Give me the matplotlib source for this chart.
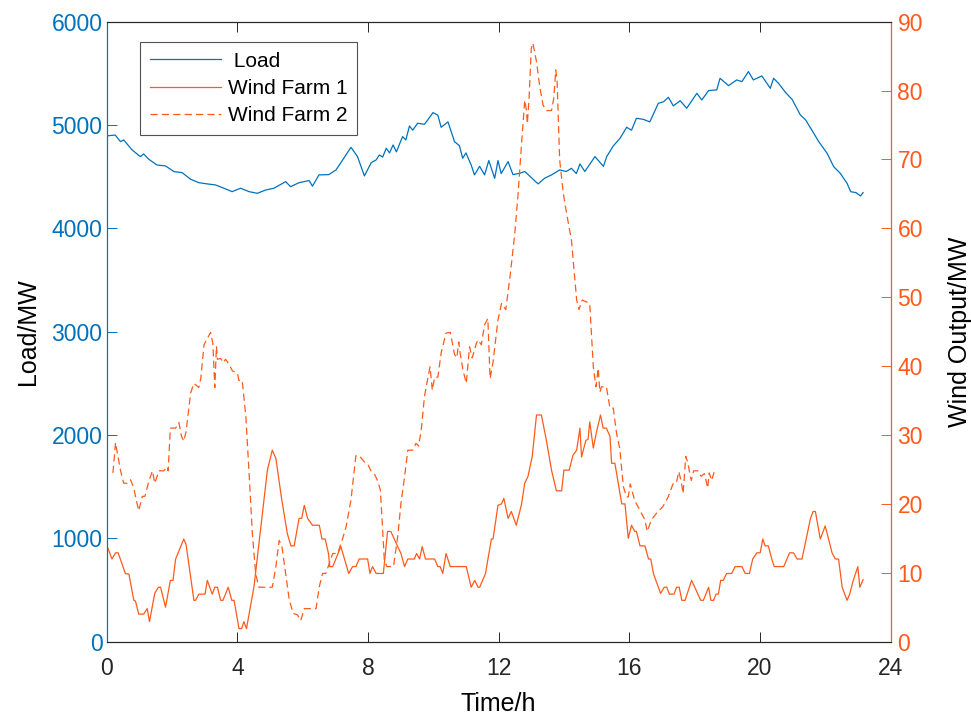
import matplotlib
matplotlib.use("Agg")
import matplotlib.pyplot as plt

plt.rcParams['font.family'] = ['Liberation Sans', 'DejaVu Sans']
plt.rcParams['lines.scale_dashes'] = False

# ---------------- data ----------------
load_t = [0.01, 0.26, 0.42, 0.52, 0.78, 1.03, 1.13, 1.29, 1.54, 1.80, 2.06, 2.31, 2.57, 2.82,
          3.08, 3.33, 3.59, 3.84, 4.10, 4.36, 4.61, 4.87, 5.12, 5.48, 5.63, 5.89, 6.20, 6.30,
          6.50, 6.80, 7.02, 7.17, 7.48, 7.68, 7.89, 8.10, 8.25, 8.35, 8.45, 8.56, 8.66, 8.77,
          8.87, 9.06, 9.16, 9.27, 9.37, 9.52, 9.73, 9.83, 9.99, 10.14, 10.24, 10.45, 10.65,
          10.80, 10.90, 11.00, 11.16, 11.26, 11.42, 11.57, 11.70, 11.88, 11.98, 12.08, 12.29,
          12.44, 12.65, 12.80, 13.21, 13.41, 13.62, 13.87, 14.07, 14.23, 14.38, 14.49, 14.64,
          14.95, 15.21, 15.31, 15.51, 15.72, 15.92, 16.07, 16.22, 16.43, 16.63, 16.89, 17.05,
          17.20, 17.35, 17.56, 17.76, 18.07, 18.22, 18.43, 18.68, 18.78, 19.04, 19.29, 19.45,
          19.65, 19.80, 20.06, 20.32, 20.42, 20.57, 20.78, 20.99, 21.24, 21.40, 21.65, 21.80,
          22.06, 22.26, 22.46, 22.67, 22.78, 22.95, 23.08, 23.16]
load_mw = [4895, 4903, 4839, 4855, 4758, 4694, 4720, 4668, 4613, 4604, 4549, 4539, 4475, 4442,
           4430, 4420, 4388, 4355, 4388, 4355, 4339, 4371, 4388, 4452, 4403, 4442, 4462, 4408,
           4517, 4520, 4565, 4636, 4784, 4694, 4507, 4636, 4662, 4710, 4690, 4775, 4730, 4807,
           4740, 4888, 4855, 4991, 4950, 5017, 5007, 5049, 5120, 5095, 4978, 5030, 4839,
           4800, 4678, 4730, 4613, 4517, 4600, 4517, 4656, 4484, 4656, 4530, 4646,
           4520, 4533, 4550, 4430, 4485, 4517, 4565, 4550, 4581, 4530, 4623, 4550,
           4694, 4600, 4694, 4797, 4872, 4978, 4950, 5065, 5055, 5030, 5210, 5225,
           5268, 5185, 5235, 5162, 5307, 5242, 5333, 5340, 5452, 5381, 5436, 5420,
           5517, 5436, 5475, 5355, 5452, 5404, 5317, 5246, 5097, 5050, 4920, 4840,
           4726, 4597, 4533, 4436, 4355, 4345, 4313, 4346]

wf1_t = [0.01, 0.16, 0.27, 0.35, 0.57, 0.68, 0.83, 0.88, 0.98, 1.13, 1.24, 1.31, 1.47, 1.58,
         1.65, 1.80, 1.95, 2.03, 2.11, 2.36, 2.43, 2.67, 2.72, 2.82, 3.01, 3.08, 3.23, 3.31,
         3.39, 3.49, 3.56, 3.72, 3.83, 3.90, 4.05, 4.13, 4.20, 4.28, 4.51, 4.72, 4.92, 5.07,
         5.18, 5.36, 5.53, 5.64, 5.74, 5.89, 5.97, 6.05, 6.15, 6.30, 6.51, 6.59, 6.69, 6.79,
         6.83, 6.92, 7.17, 7.41, 7.53, 7.63, 7.73, 7.99, 8.06, 8.14, 8.25, 8.35, 8.47, 8.60,
         8.70, 8.91, 9.01, 9.12, 9.22, 9.42, 9.49, 9.58, 9.66, 9.76, 10.04, 10.14, 10.21,
         10.29, 10.39, 10.52, 11.01, 11.16, 11.27, 11.37, 11.42, 11.60, 11.67, 11.78, 11.83,
         11.98, 12.09, 12.16, 12.29, 12.39, 12.54, 12.70, 12.80, 12.90, 13.03, 13.16, 13.31,
         13.46, 13.62, 13.77, 13.93, 14.00, 14.16, 14.28, 14.39, 14.49, 14.54, 14.67, 14.74,
         14.79, 14.90, 15.00, 15.12, 15.20, 15.30, 15.41, 15.46, 15.56, 15.77, 15.87, 15.97,
         16.07, 16.17, 16.22, 16.33, 16.48, 16.59, 16.66, 16.74, 16.96, 17.07, 17.15, 17.23,
         17.37, 17.45, 17.53, 17.61, 17.71, 17.91, 18.19, 18.27, 18.43, 18.50, 18.58, 18.66,
         18.73, 18.80, 18.88, 18.98, 19.14, 19.24, 19.45, 19.55, 19.68, 19.78, 19.91, 20.01,
         20.09, 20.16, 20.26, 20.37, 20.44, 20.73, 20.91, 21.03, 21.14, 21.29, 21.55, 21.63,
         21.70, 21.85, 22.00, 22.21, 22.31, 22.41, 22.52, 22.67, 22.75, 22.86, 23.00, 23.06,
         23.16]
wf1_mw = [13.9, 12.0, 12.9, 12.9, 9.9, 9.8, 6.0, 5.9, 4.0, 4.0, 4.8, 2.9, 7.0, 7.9,
          7.9, 5.0, 8.9, 8.9, 12.0, 14.9, 14.1, 6.0, 6.0, 6.9, 6.9, 8.9, 6.9, 7.9,
          7.9, 6.0, 6.0, 7.9, 6.0, 6.0, 1.9, 1.9, 2.9, 1.9, 8.0, 16.7, 24.9, 27.8,
          26.6, 20.6, 15.7, 13.9, 13.9, 17.9, 17.9, 19.8, 17.9, 16.9, 16.9, 14.9, 14.9, 12.8,
          10.9, 10.9, 13.8, 9.9, 10.9, 10.9, 12.0, 12.0, 9.9, 10.9, 9.9, 9.9, 9.9, 16.0,
          16.0, 13.8, 12.8, 10.9, 12.0, 12.0, 12.8, 12.0, 13.8, 12.0, 12.0, 10.9, 10.9,
          9.9, 12.8, 10.9, 10.9, 7.9, 8.9, 7.9, 7.9, 9.9, 11.9, 14.9, 14.9,
          19.8, 20.0, 20.8, 17.9, 18.9, 16.9, 19.9, 23.0, 24.0, 26.9, 32.9, 32.9,
          29.3, 24.9, 21.9, 21.9, 24.9, 24.9, 27.1, 27.8, 31.0, 26.8, 29.2, 29.4,
          31.9, 28.1, 30.5, 32.9, 31.0, 31.0, 29.8, 25.9, 25.9, 20.0, 20.0, 15.0,
          16.9, 16.0, 16.0, 13.9, 13.9, 12.0, 12.0, 9.9, 7.0, 7.9, 7.9, 6.9,
          6.9, 7.9, 7.9, 6.0, 6.0, 8.9, 6.0, 6.0, 7.9, 6.0, 6.0, 6.9,
          6.9, 8.9, 8.9, 9.9, 9.9, 10.9, 10.9, 9.9, 9.9, 12.0, 12.9, 12.9,
          14.9, 13.9, 13.9, 11.9, 10.9, 10.9, 12.9, 12.9, 12.0, 12.0, 17.9, 18.9,
          18.9, 14.9, 16.8, 12.9, 12.0, 12.0, 7.9, 6.0, 6.9, 8.9, 10.9, 7.9,
          9.0]

wf2_t = [0.19, 0.27, 0.42, 0.52, 0.63, 0.73, 0.83, 0.88, 0.98, 1.09, 1.17, 1.29, 1.40, 1.47,
         1.60, 1.75, 1.85, 1.88, 1.95, 2.11, 2.21, 2.29, 2.36, 2.43, 2.57, 2.67, 2.82, 2.88,
         2.98, 3.18, 3.25, 3.31, 3.36, 3.39, 3.49, 3.56, 3.64, 3.74, 3.85, 4.00, 4.05, 4.15,
         4.26, 4.36, 4.46, 4.56, 4.66, 5.07, 5.18, 5.28, 5.36, 5.48, 5.59, 5.71, 5.84, 5.94,
         6.05, 6.41, 6.51, 6.61, 6.71, 6.82, 6.92, 7.07, 7.22, 7.33, 7.48, 7.63, 7.73, 7.89,
         7.99, 8.09, 8.19, 8.30, 8.38, 8.50, 8.58, 8.68, 8.78, 8.91, 9.01, 9.12, 9.22, 9.37,
         9.47, 9.55, 9.63, 9.73, 9.83, 9.90, 9.97, 10.04, 10.14, 10.24, 10.39, 10.52, 10.65,
         10.72, 10.78, 10.82, 10.91, 11.01, 11.11, 11.19, 11.32, 11.37, 11.47, 11.57, 11.67,
         11.74, 11.83, 11.98, 12.09, 12.22, 12.35, 12.49, 12.59, 12.70, 12.80, 12.85, 12.88,
         12.93, 13.00, 13.05, 13.16, 13.26, 13.36, 13.46, 13.62, 13.69, 13.75, 13.79, 13.87,
         13.98, 14.08, 14.23, 14.31, 14.39, 14.46, 14.56, 14.79, 14.90, 14.98, 15.05, 15.10,
         15.15, 15.30, 15.41, 15.51, 15.61, 15.71, 15.82, 15.92, 15.97, 16.03, 16.16, 16.32,
         16.48, 16.55, 16.68, 16.88, 17.03, 17.19, 17.34, 17.44, 17.52, 17.60, 17.65, 17.73,
         17.80, 17.85, 17.90, 17.97, 18.10, 18.20, 18.30, 18.35, 18.40, 18.45, 18.52, 18.60,
         18.65]
wf2_mw = [24.5, 28.9, 24.9, 23.0, 23.0, 23.5, 22.3, 21.1, 19.0, 21.1, 21.1, 23.3, 24.8, 23.0,
          24.8, 24.8, 25.4, 24.8, 31.0, 31.0, 31.8, 29.8, 29.1, 30.5, 36.1, 37.5, 36.9, 38.2,
          43.1, 44.9, 43.3, 36.9, 42.9, 41.0, 41.1, 40.5, 41.0, 40.3, 39.3, 39.0, 37.9, 37.9,
          32.7, 24.4, 15.7, 9.9, 7.9, 7.9, 10.9, 14.7, 14.0, 9.9, 6.05, 4.1, 3.9, 3.05,
          4.8, 4.8, 8.0, 9.9, 9.9, 11.4, 12.8, 12.8, 14.9, 16.7, 20.6, 27.0, 27.0, 26.1,
          25.8, 24.8, 24.4, 23.3, 22.0, 11.9, 10.9, 10.9, 10.9, 15.2, 20.1, 23.9, 27.8, 27.8,
          28.8, 28.4, 30.7, 35.6, 38.2, 39.9, 36.5, 38.4, 38.4, 41.9, 44.8, 44.9, 41.7,
          41.2, 43.5, 41.9, 39.4, 37.5, 42.8, 41.2, 43.3, 43.8, 43.1, 46.0, 46.9,
          38.2, 40.6, 46.7, 49.1, 48.2, 53.0, 59.0, 64.6, 72.1, 78.6, 77.2, 75.2,
          78.6, 86.1, 86.9, 84.2, 80.6, 77.9, 77.1, 77.1, 78.9, 83.0, 81.5, 69.9,
          65.1, 62.2, 58.3, 54.0, 49.6, 48.2, 49.6, 49.1, 39.9, 37.0, 39.7, 36.2,
          37.0, 37.0, 33.9, 33.9, 30.3, 28.0, 22.5, 21.0, 21.0, 22.9, 20.6, 19.1,
          17.7, 16.0, 17.7, 18.9, 19.6, 21.0, 22.9, 23.0, 24.7, 23.0, 21.5, 26.9,
          25.9, 24.5, 23.4, 24.8, 24.8, 24.0, 24.4, 23.4, 22.3, 24.5, 23.4, 24.6,
          24.7]

x_ticks = [0, 4, 8, 12, 16, 20, 24]
load_ticks = [0, 1000, 2000, 3000, 4000, 5000, 6000]
wind_ticks = [0, 10, 20, 30, 40, 50, 60, 70, 80, 90]

# ---------------- styling ----------------
BLUE = '#0072BD'
ORANGE = '#FF5A1A'
DARK = '#262626'
TICK_FS = 16.5
LABEL_FS = 18

fig = plt.figure(figsize=(9.71, 7.2), dpi=100)
ax = fig.add_axes([0.1099, 0.1088, 0.8072, 0.8611])
ax2 = ax.twinx()

l1, = ax.plot(load_t, load_mw, color=BLUE, lw=0.9, label=' Load')
l2, = ax2.plot(wf1_t, wf1_mw, color=ORANGE, lw=0.9, label='Wind Farm 1')
l3, = ax2.plot(wf2_t, wf2_mw, color=ORANGE, lw=0.9, linestyle=(0, (5.2, 3.0)),
               label='Wind Farm 2')

ax.set_xlim(0, 24)
ax.set_ylim(0, 6000)
ax2.set_ylim(0, 90)
ax.set_xticks(x_ticks)
ax.set_yticks(load_ticks)
ax2.set_yticks(wind_ticks)

ax.tick_params(axis='x', direction='in', top=True, length=7, width=0.7,
               colors=DARK, labelsize=TICK_FS, pad=11)
ax.tick_params(axis='y', direction='in', length=7, width=0.7, colors=BLUE,
               labelsize=TICK_FS, pad=3)
ax2.tick_params(axis='y', direction='in', length=7, width=0.7, colors=ORANGE,
                labelsize=TICK_FS, pad=5)

for a in (ax, ax2):
    a.spines['top'].set_color(DARK)
    a.spines['bottom'].set_color(DARK)
    a.spines['left'].set_color(BLUE)
    a.spines['right'].set_color(ORANGE)
    for s in a.spines.values():
        s.set_linewidth(0.8)

ax.set_xlabel('Time/h', fontsize=LABEL_FS, color='black', labelpad=9)
ax.set_ylabel('Load/MW', fontsize=LABEL_FS, color='black', labelpad=8)
ax2.set_ylabel('Wind Output/MW', fontsize=LABEL_FS, color='black', labelpad=18)

leg = ax2.legend(handles=[l1, l2, l3], loc='upper left', bbox_to_anchor=(0.043, 0.967),
                 borderaxespad=0, fontsize=15, frameon=True, fancybox=False,
                 handlelength=3.4, handletextpad=0.35, labelspacing=0.4,
                 borderpad=0.45)
leg.get_frame().set_edgecolor(DARK)
leg.get_frame().set_linewidth(0.8)

fig.savefig('out.png', dpi=100)
